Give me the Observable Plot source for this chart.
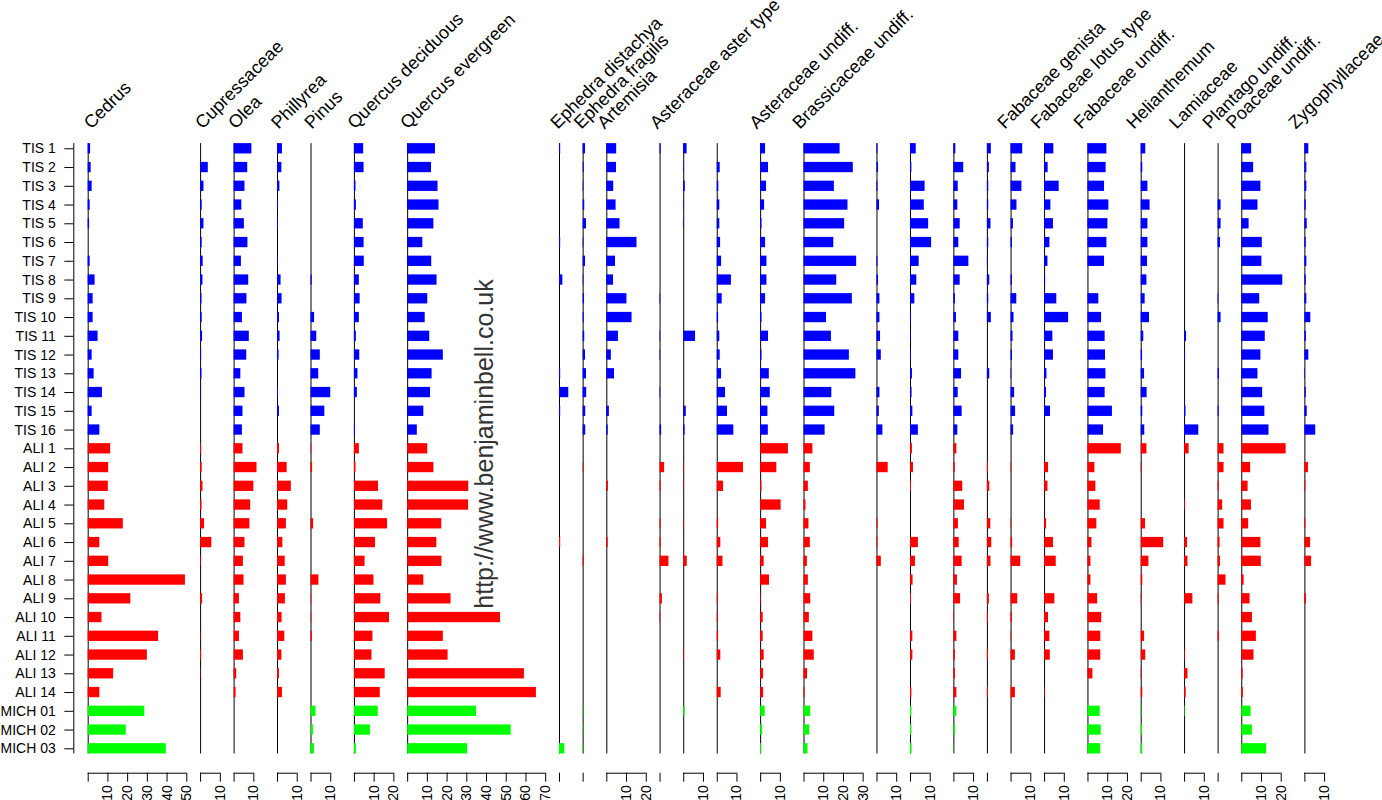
<!DOCTYPE html>
<html>
<head>
<meta charset="utf-8">
<script src="https://cdn.jsdelivr.net/npm/d3@7"></script>
<script src="https://cdn.jsdelivr.net/npm/@observablehq/plot@0.6"></script>
<style>
  body { margin: 0; background: #fff; font-family: "Liberation Sans", Arial, sans-serif; }
  #wrap { position: relative; width: 1382px; height: 800px; overflow: hidden; }
  #wm { position: absolute; left: 484px; top: 444px; transform: translate(-50%, -50%) rotate(-90deg);
        font-size: 25px; color: #333; white-space: nowrap; font-family: "Liberation Sans", Arial, sans-serif; }
</style>
</head>
<body>
<div id="wrap"><div id="chart"></div><div id="wm">http://www.benjaminbell.co.uk</div></div>
<script>
// ---- data ----
const samples = ["TIS 1","TIS 2","TIS 3","TIS 4","TIS 5","TIS 6","TIS 7","TIS 8","TIS 9","TIS 10","TIS 11","TIS 12","TIS 13","TIS 14","TIS 15","TIS 16",
  "ALI 1","ALI 2","ALI 3","ALI 4","ALI 5","ALI 6","ALI 7","ALI 8","ALI 9","ALI 10","ALI 11","ALI 12","ALI 13","ALI 14",
  "MICH 01","MICH 02","MICH 03"];
const taxa = ["Cedrus","Cupressaceae","Olea","Phillyrea","Pinus","Quercus deciduous","Quercus evergreen",
  "Ephedra distachya","Ephedra fragilis","Artemisia","Asteraceae aster type","","","Asteraceae undiff.",
  "Brassicaceae undiff.","","","","","Fabaceae genista","Fabaceae lotus type","Fabaceae undiff.",
  "Helianthemum","Lamiaceae","Plantago undiff.","Poaceae undiff.","Zygophyllaceae"];
const scaleMax = [50,10,15,10,15,20,70,5,5,20,5,10,15,15,30,10,15,10,5,10,15,20,15,10,5,25,10];
const siteNames = ["TIS","ALI","MICH"];
const siteColors = ["#0000ff","#ff0000","#00ff00"];
const tickStep = 10;
const gap = 7;

const cedrus = [1.2,1.5,2,1,0.7,0,1,3.5,2.5,2.5,5,2,3,7.2,2,5.9, 11.4,10.4,10.2,8.4,17.8,5.9,10.4,49.3,21.6,7,35.7,30,12.9,5.9, 28.7,19.3,39.6];
const cupressaceae = [0,3.9,1.7,0.8,1.7,0.8,1.3,1.2,0.7,0.8,1,0.5,0.7,0.2,0,0, 0.5,0.8,1.2,0.7,2,5.7,0.3,0,1,0,0.2,0.5,0.2,0, 0,0,0];
const olea = [9,6.9,5.5,3.9,5.2,7,3.7,7.4,6.5,4.2,7.7,6.4,3.4,5.5,4.5,4.2, 4.5,11.6,10,8.4,8,5.5,4.7,5,2.7,3.4,2.7,4.7,1.3,1, 0,0,0];
const phillyrea = [2.5,2.2,1.2,0.5,0.5,0,0.3,1.8,2.3,1,1.3,0.8,0,0.5,1,0, 1,4.9,7,5.2,4.5,2.7,3.9,4.5,4,2.3,3.7,2.2,1,2.5, 0,0,0];
const pinus = [0,0,0,0,0,0,0,0.6,0,1.8,2.9,4.7,3.9,10,7,4.7, 0.3,0.8,0,0,1.3,0,0,4,0.3,0.3,0.7,0,0,0, 2.5,1.2,1.8];
const quercusDeciduous = [4.7,4.9,0.8,1,4.5,4.9,5,2.5,2.9,2.5,1,2.7,1.8,1.5,0,0.5, 2.5,0.8,12.2,14.4,16.8,10.7,5.4,9.9,13.4,17.8,9.4,8.9,15.6,13.1, 12.1,8.1,1];
const quercusEvergreen = [14.1,12.1,15.4,15.9,13.3,7.7,12.2,14.9,10.2,8.9,11.2,18.1,12.4,11.6,8.2,4.9, 10.2,13.3,31,30.9,17.3,14.8,17.4,8.2,22,47.1,18.1,20.5,59.2,65.3, 34.9,52.5,30.4];
const ephedraDistachya = [0.6,0,0,0,0,0.6,0,1.7,0,0,0,0,0.6,4.7,0.6,0, 0,0,0,0,0,0.6,0,0,0,0,0,0,0,0, 0,0,2.7];
const ephedraFragilis = [1.2,0.5,0.3,0.8,1.7,0.3,1.2,0.3,0.7,0.5,0.8,1.2,1.7,1.8,1.3,1.3, 0,0.3,0,0,0,0,0.5,0,0,0,0,0,0,0, 0.3,0.3,0.3];
const artemisia = [5,4.9,3.5,4.7,6.7,15.3,4.4,3.4,10.2,12.8,5.9,2.3,3.9,0,1.3,0.7, 0,0,0.8,0,0,0.7,0,0,0,0,0,0,0,0, 0,0,0];
const asteraceaeAster = [0.5,0,0,0,0,0,0,0,0.3,0,0.3,0.3,0,0.3,0,0.8, 0,2.3,0.5,0,0.5,0.5,4.5,0,1.2,0.3,0,0,0,0, 0,0,0];
const unnamed12 = [1.7,0.3,0.8,0.3,0.3,0,0,0,0,0,6,0,0,0,1.3,0.7, 0,0.3,0.3,0,0.3,0,1.8,0,0,0,0,0.3,0,0, 0.7,0,0];
const unnamed13 = [0,1.5,0.8,1.3,1.3,1.7,2.2,7.2,2.5,0.7,1.3,1.5,2.2,4.2,5.2,8.4, 0,13.3,3.2,0,0.7,1.8,2.9,0,0.5,0.5,0.7,1.8,0,2, 0,0,0];
const asteraceaeUndiff = [2.5,4,3,2,0.7,2.5,3.2,3.2,2.5,0.7,4,0.7,4.4,4.9,3.7,3.9, 14.1,8.2,0.7,10.4,3,4,1.8,4.5,0.3,1.3,1.3,1.8,1.5,1.5, 2.3,1,0.5];
const brassicaceae = [18.3,25,15.4,22.3,20.6,15.1,26.7,16.6,24.5,11.4,13.9,23,26.3,14.1,15.6,10.7, 4.5,3.2,2.2,1,2.5,3.2,1.7,2.2,3.4,2.7,4.5,5.2,1.8,0.5, 3.4,2.9,2];
const unnamed16 = [0.5,0.8,0.5,1.3,0,0,0.5,0.8,1.5,1.5,1.8,2.2,0,1.5,1.2,3, 0,5.7,0,0,0.5,0.5,2.2,0,0,0,0,0,0,0, 0,0,0];
const unnamed17 = [2.9,0.7,7.4,7,9.2,10.7,4.4,3.2,2.2,0.5,0.5,0.5,1,0.8,1.2,4, 1,1.5,0.5,0,0,4,2.5,1.3,0.5,0,1.2,1.2,0,0.7, 0.7,0.7,0.8];
const unnamed18 = [1,5,2.2,2,3.2,2.5,7.6,3.2,0.8,1.3,2.5,2.5,3.9,2.2,4.2,2, 1.5,0.7,4.5,5.4,2.3,2.7,4.2,1.8,3.4,0.3,1.5,0.8,0.8,1.5, 1.5,0.8,0.2];
const unnamed19 = [2,1,0.7,0.7,1.8,0.7,0.3,1.2,0.7,2,0,0,1.2,0,0,0, 0,0.5,1.2,0,1.7,2.2,1.8,0,1,0.5,0,0.5,0,0.5, 0,0,0];
const fabaceaeGenista = [5.9,2.5,5.5,3,1.2,0.7,0,0.7,2.9,1.5,1,0.7,0.3,1.8,2.3,1.3, 0,0.3,0,0,0.3,0.8,4.9,0,3.4,0.7,0.3,2.2,0,2.2, 0,0,0];
const fabaceaeLotus = [4.7,1.8,7.4,3.2,4.5,2.7,1.7,0.5,6.2,12.2,4.2,4.5,1.2,1,3,0, 0,2,1.7,0,1,4.5,5.9,0,5.2,2,2.7,2.9,0,0.3, 0,0,0];
const fabaceaeUndiff = [9.6,9.2,8.4,10.6,10.1,9.6,8.4,0,5.5,6.9,8.7,8.9,9.1,8.7,12.4,7.9, 16.9,3.5,4,6.2,4.5,2,1.5,1.5,4.9,7,6.5,6.5,2.5,0, 6.2,6.7,6.5];
const helianthemum = [2.3,0.8,3.4,4.5,3.4,3.4,3.2,2.9,2,4.2,1.3,0.7,1.7,3,0.8,1.8, 2.9,0.3,0,0,2.2,11.4,3.9,0.8,0.3,0,1.7,2.3,0.3,0.8, 0.3,0.7,0.8];
const lamiaceae = [0,0,0,0,0,0,0,0,0,0,1,0.3,0,0,0.7,7.2, 2.3,0,0,0.3,0,1.5,1.7,0,4.2,0,0,0.3,1.7,0.8, 0.3,0,0];
const plantago = [0,0,0,1.5,1.5,1.2,0,0,0.3,1.5,0,0,0.7,0,0.5,0, 3,3,0.5,2.3,3,1,1.2,4,0.5,0,0.7,0,0,0, 0,0,0];
const poaceae = [5,6,9.7,8.2,3.7,10.4,10.2,20.8,9.1,13.4,11.9,9.7,8.2,10.6,11.7,13.8, 22.5,4.5,3.2,4.9,3.5,9.7,9.9,1.2,4.2,5.4,7.4,6.2,0.7,0.8, 4.7,5.4,12.6];
const zygophyllaceae = [2,1,1,0.7,1.2,0.7,1,0.7,1,3,0.8,2,0.3,0.7,1.2,5.5, 0,1.8,0.5,0,0.5,2.9,3.4,0,0.8,0,0,0,0,0, 0,0,0];

const taxonValues = [cedrus, cupressaceae, olea, phillyrea, pinus, quercusDeciduous, quercusEvergreen,
  ephedraDistachya, ephedraFragilis, artemisia, asteraceaeAster, unnamed12, unnamed13, asteraceaeUndiff,
  brassicaceae, unnamed16, unnamed17, unnamed18, unnamed19, fabaceaeGenista, fabaceaeLotus, fabaceaeUndiff,
  helianthemum, lamiaceae, plantago, poaceae, zygophyllaceae];

// ---- layout derived from the data ----
const offsets = [];
let acc = 0;
scaleMax.forEach(w => { offsets.push(acc); acc += w + gap; });
const total = acc - gap;

const columns = taxa.map((name, j) => ({name, x: offsets[j], max: scaleMax[j]}));

const bars = [];
taxonValues.forEach((vals, j) => vals.forEach((v, i) => {
  if (v > 0) bars.push({sample: samples[i], site: samples[i].split(" ")[0], x1: offsets[j], x2: offsets[j] + v});
}));

const ticks = [];
const tickLabel = new Map();
columns.forEach(c => {
  for (let t = 0; t <= c.max; t += tickStep) {
    const p = c.x + t;
    ticks.push(p);
    tickLabel.set(p, t === 0 ? "" : String(t));
  }
});
const axisSegs = columns.map(c => ({x1: c.x, x2: c.x + Math.floor(c.max / tickStep) * tickStep}));

const first = samples[0], last = samples[samples.length - 1];

const chart = Plot.plot({
  width: 1382,
  height: 800,
  marginLeft: 73.3,
  marginRight: 0,
  marginTop: 0,
  marginBottom: 27.3,
  style: {fontFamily: "Liberation Sans, Arial, sans-serif", fontSize: "14px", color: "#000", background: "#fff", overflow: "visible"},
  x: {domain: [0, total], range: [87.7, 1324.1], axis: null, label: null},
  y: {domain: samples, range: [134.7, 761.9], padding: 0.45, round: false, axis: null, label: null},
  color: {domain: siteNames, range: siteColors},
  marks: [
    Plot.ruleX(columns, {x: "x", y1: () => first, y2: () => last, stroke: "#000", strokeWidth: 1}),
    Plot.barX(bars, {x1: "x1", x2: "x2", y: "sample", fill: "site"}),
    Plot.axisY({anchor: "left", tickSize: 9, tickPadding: 9, fontSize: 14, label: null}),
    Plot.ruleX([0], {x: d => d, y1: () => first, y2: () => last, dx: -14.4, stroke: "#000"}),
    // bottom per-column axes
    Plot.ruleY(axisSegs, {x1: "x1", x2: "x2", y: () => last, dy: 24.4, stroke: "#000"}),
    Plot.tickX(ticks, {x: d => d, y: () => last, dy: 29.5, insetBottom: 1.3, stroke: "#000"}),
    Plot.text(ticks, {x: d => d, y: () => last, text: d => tickLabel.get(d), rotate: -90,
      textAnchor: "end", dy: 36.4, fontSize: 14, fill: "#000"}),
    // taxon names
    Plot.text(columns.filter(c => c.name), {x: d => d.x * 0.99 + 1.5, y: () => first, text: "name", rotate: -45,
      textAnchor: "start", lineAnchor: "bottom", dy: -19, fontSize: 18, fill: "#000"})
  ]
});
document.getElementById("chart").appendChild(chart);
</script>
</body>
</html>
